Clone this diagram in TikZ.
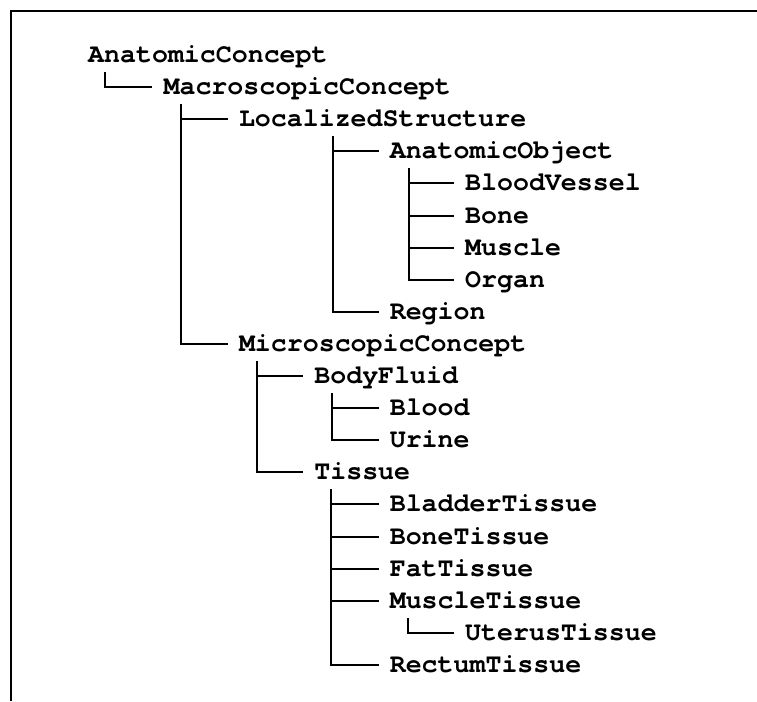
\documentclass[tikz,border=0pt]{standalone}
\usepackage{fontspec}
\setmonofont{TeX Gyre Cursor}

\begin{document}
\begin{tikzpicture}[x=1pt,y=-1pt,
  concept/.style={anchor=west,inner sep=0pt,text height=15pt,text depth=0pt,
    font=\ttfamily\bfseries\fontsize{26.6}{30}\selectfont},
  branch/.style={line width=2pt}]
\useasboundingbox (0,0) rectangle (757,701);
\draw[line width=2.5pt] (11,701) -- (11,11) -- (757,11);
% concepts, one row each
\node[concept] (AnatomicConcept) at (88.0,55.0) {AnatomicConcept};
\node[concept] (MacroscopicConcept) at (163.4,87.1) {MacroscopicConcept};
\node[concept] (LocalizedStructure) at (238.8,119.2) {LocalizedStructure};
\node[concept] (AnatomicObject) at (389.6,151.3) {AnatomicObject};
\node[concept] (BloodVessel) at (465.0,183.4) {BloodVessel};
\node[concept] (Bone) at (465.0,215.5) {Bone};
\node[concept] (Muscle) at (465.0,247.6) {Muscle};
\node[concept] (Organ) at (465.0,279.7) {Organ};
\node[concept] (Region) at (389.6,311.8) {Region};
\node[concept] (MicroscopicConcept) at (238.8,343.9) {MicroscopicConcept};
\node[concept] (BodyFluid) at (314.2,376.0) {BodyFluid};
\node[concept] (Blood) at (389.6,408.1) {Blood};
\node[concept] (Urine) at (389.6,440.2) {Urine};
\node[concept] (Tissue) at (314.2,472.3) {Tissue};
\node[concept] (BladderTissue) at (389.6,504.4) {BladderTissue};
\node[concept] (BoneTissue) at (389.6,536.5) {BoneTissue};
\node[concept] (FatTissue) at (389.6,568.6) {FatTissue};
\node[concept] (MuscleTissue) at (389.6,600.7) {MuscleTissue};
\node[concept] (UterusTissue) at (465.0,632.8) {UterusTissue};
\node[concept] (RectumTissue) at (389.6,664.9) {RectumTissue};
% branches
\draw[branch] ([xshift=17pt,yshift=-17pt]AnatomicConcept.west) |- ([xshift=-11pt]MacroscopicConcept.west);
\draw[branch] ([xshift=18pt,yshift=-17pt]MacroscopicConcept.west) |- ([xshift=-11pt]LocalizedStructure.west);
\draw[branch] ([xshift=18pt,yshift=-17pt]MacroscopicConcept.west) |- ([xshift=-11pt]MicroscopicConcept.west);
\draw[branch] ([xshift=94pt,yshift=-17pt]LocalizedStructure.west) |- ([xshift=-11pt]AnatomicObject.west);
\draw[branch] ([xshift=94pt,yshift=-17pt]LocalizedStructure.west) |- ([xshift=-11pt]Region.west);
\draw[branch] ([xshift=19pt,yshift=-17pt]AnatomicObject.west) |- ([xshift=-11pt]BloodVessel.west);
\draw[branch] ([xshift=19pt,yshift=-17pt]AnatomicObject.west) |- ([xshift=-11pt]Bone.west);
\draw[branch] ([xshift=19pt,yshift=-17pt]AnatomicObject.west) |- ([xshift=-11pt]Muscle.west);
\draw[branch] ([xshift=19pt,yshift=-17pt]AnatomicObject.west) |- ([xshift=-11pt]Organ.west);
\draw[branch] ([xshift=18pt,yshift=-17pt]MicroscopicConcept.west) |- ([xshift=-11pt]BodyFluid.west);
\draw[branch] ([xshift=18pt,yshift=-17pt]MicroscopicConcept.west) |- ([xshift=-11pt]Tissue.west);
\draw[branch] ([xshift=18pt,yshift=-17pt]BodyFluid.west) |- ([xshift=-11pt]Blood.west);
\draw[branch] ([xshift=18pt,yshift=-17pt]BodyFluid.west) |- ([xshift=-11pt]Urine.west);
\draw[branch] ([xshift=17pt,yshift=-17pt]Tissue.west) |- ([xshift=-11pt]BladderTissue.west);
\draw[branch] ([xshift=17pt,yshift=-17pt]Tissue.west) |- ([xshift=-11pt]BoneTissue.west);
\draw[branch] ([xshift=17pt,yshift=-17pt]Tissue.west) |- ([xshift=-11pt]FatTissue.west);
\draw[branch] ([xshift=17pt,yshift=-17pt]Tissue.west) |- ([xshift=-11pt]MuscleTissue.west);
\draw[branch] ([xshift=17pt,yshift=-17pt]Tissue.west) |- ([xshift=-11pt]RectumTissue.west);
\draw[branch] ([xshift=18pt,yshift=-17pt]MuscleTissue.west) |- ([xshift=-11pt]UterusTissue.west);
\end{tikzpicture}
\end{document}
